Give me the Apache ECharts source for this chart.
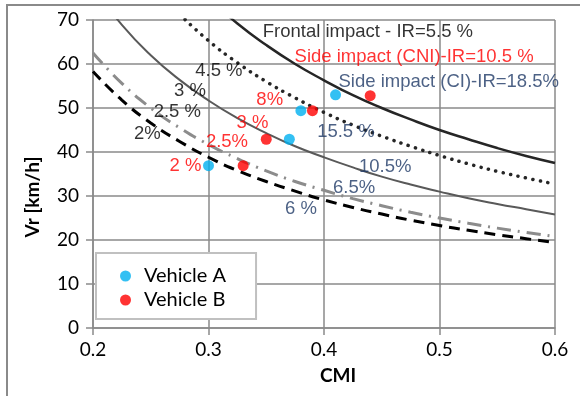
<!DOCTYPE html>
<html>
<head>
<meta charset="utf-8">
<script src="https://cdn.jsdelivr.net/npm/echarts@6/dist/echarts.min.js"></script>
<style>html,body{margin:0;padding:0;background:#fff;}#c{width:580px;height:396px;}</style>
</head>
<body>
<div id="c"></div>
<script>
// ---- data ----
var xTicks = [0.2, 0.3, 0.4, 0.5, 0.6];
var yTicks = [0, 10, 20, 30, 40, 50, 60, 70];

// IR curves (CMI vs Vr)
var frontalX = [0.300, 0.325, 0.350, 0.375, 0.400, 0.425, 0.450, 0.475, 0.500, 0.525, 0.550, 0.575, 0.600];
var frontalY = [75.0, 69.2, 64.3, 60.0, 56.3, 52.9, 50.0, 47.4, 45.0, 42.9, 40.9, 39.1, 37.5];
var dottedX  = [0.275, 0.300, 0.325, 0.350, 0.375, 0.400, 0.425, 0.450, 0.475, 0.500, 0.525, 0.550, 0.575, 0.600];
var dottedY  = [71.3, 65.3, 60.3, 56.0, 52.3, 49.0, 46.1, 43.6, 41.3, 39.2, 37.3, 35.6, 34.1, 32.7];
var greyX    = [0.200, 0.225, 0.250, 0.275, 0.300, 0.325, 0.350, 0.375, 0.400, 0.425, 0.450, 0.475, 0.500, 0.525, 0.550, 0.575, 0.600];
var greyY    = [77.5, 68.9, 62.0, 56.4, 51.7, 47.7, 44.3, 41.3, 38.8, 36.5, 34.4, 32.6, 31.0, 29.5, 28.2, 27.0, 25.8];
var dashDotX = [0.200, 0.225, 0.250, 0.275, 0.300, 0.325, 0.350, 0.375, 0.400, 0.425, 0.450, 0.475, 0.500, 0.525, 0.550, 0.575, 0.600];
var dashDotY = [62.5, 55.6, 50.0, 45.5, 41.7, 38.5, 35.7, 33.3, 31.3, 29.4, 27.8, 26.3, 25.0, 23.8, 22.7, 21.7, 20.8];
var dashedX  = [0.200, 0.225, 0.250, 0.275, 0.300, 0.325, 0.350, 0.375, 0.400, 0.425, 0.450, 0.475, 0.500, 0.525, 0.550, 0.575, 0.600];
var dashedY  = [58.3, 51.8, 46.6, 42.4, 38.8, 35.8, 33.3, 31.1, 29.1, 27.4, 25.9, 24.5, 23.3, 22.2, 21.2, 20.3, 19.4];

// vehicles
var vehicleAX = [0.30, 0.37, 0.38, 0.41];
var vehicleAY = [36.9, 42.9, 49.4, 53.0];
var vehicleBX = [0.33, 0.35, 0.39, 0.44];
var vehicleBY = [36.9, 42.9, 49.4, 52.8];

// annotation texts and their anchor (CMI, Vr)
var blackText = ['Frontal impact - IR=5.5 %', '4.5 %', '3 %', '2.5 %', '2%'];
var blackX = [0.438, 0.309, 0.284, 0.273, 0.247];
var blackY = [67.3, 58.4, 53.8, 49.0, 44.0];
var redText = ['Side impact (CNI)-IR=10.5 %', '8%', '3 %', '2.5%', '2 %'];
var redX = [0.478, 0.353, 0.338, 0.316, 0.280];
var redY = [61.6, 51.8, 46.7, 42.2, 36.9];
var blueText = ['Side impact (CI)-IR=18.5%', '15.5 %', '10.5%', '6.5%', '6 %'];
var blueX = [0.508, 0.419, 0.453, 0.426, 0.380];
var blueY = [55.9, 44.5, 36.7, 31.9, 27.1];

function pairs(xs, ys) { return xs.map(function (x, i) { return [x, ys[i]]; }); }
function labelPoints(xs, ys, texts) {
  return xs.map(function (x, i) { return { value: [x, ys[i]], name: texts[i] }; });
}

var chart = echarts.init(document.getElementById('c'), null, { renderer: 'canvas' });
var gridColor = '#8a8a8a';
var tickFont = 'Lato, "Open Sans", sans-serif';
var annFont = '"Liberation Sans", Arial, sans-serif';

function curve(name, xs, ys, color, width, dash, cap) {
  return {
    name: name, type: 'line', data: pairs(xs, ys), smooth: 0.5,
    showSymbol: false, symbol: 'none', silent: true, clip: true, z: 3,
    lineStyle: { color: color, width: width, type: dash, cap: cap || 'butt' }
  };
}
function annot(name, xs, ys, texts, color) {
  return {
    name: name, type: 'scatter', data: labelPoints(xs, ys, texts), symbolSize: 0, silent: true, z: 10,
    label: { show: true, position: 'inside', formatter: '{b}', color: color,
      fontFamily: annFont, fontSize: 18.5 }
  };
}

chart.setOption({
  animation: false,
  backgroundColor: '#ffffff',
  grid: { left: 93, right: 25, top: 20, bottom: 68, containLabel: false },
  xAxis: {
    type: 'value', min: xTicks[0], max: xTicks[xTicks.length - 1], interval: 0.1,
    axisLine: { show: true, lineStyle: { color: gridColor, width: 1.5 } },
    axisTick: { show: true, length: 7, lineStyle: { color: gridColor, width: 1.5 } },
    splitLine: { show: true, lineStyle: { color: gridColor, width: 1.5 } },
    axisLabel: { color: '#000', fontFamily: tickFont, fontSize: 19, margin: 12,
      formatter: function (v) { return v.toFixed(1); } }
  },
  yAxis: {
    type: 'value', min: yTicks[0], max: yTicks[yTicks.length - 1], interval: 10,
    axisLine: { show: true, lineStyle: { color: gridColor, width: 1.5 } },
    axisTick: { show: true, length: 7, lineStyle: { color: gridColor, width: 1.5 } },
    splitLine: { show: true, lineStyle: { color: gridColor, width: 1.5 } },
    axisLabel: { color: '#000', fontFamily: tickFont, fontSize: 19, margin: 14 }
  },
  legend: {
    data: ['Vehicle A', 'Vehicle B'], orient: 'vertical', left: 96, top: 253,
    width: 159, padding: [13, 30, 9, 24], itemGap: 4, itemWidth: 11, itemHeight: 11,
    borderColor: '#c0c0c0', borderWidth: 2, backgroundColor: '#fff',
    textStyle: { color: '#000', fontFamily: tickFont, fontSize: 20, padding: [0, 0, 0, 8] }
  },
  graphic: [
    { type: 'rect', silent: true, z: -10, shape: { x: 7, y: 5, width: 700, height: 500 },
      style: { fill: 'none', stroke: '#8a8a8a', lineWidth: 2 } },
    { type: 'text', silent: true, x: 33, y: 197, rotation: Math.PI / 2,
      style: { text: 'Vr [km/h]', fill: '#000', font: 'bold 19px Lato, sans-serif',
        textAlign: 'center', textVerticalAlign: 'middle' } },
    { type: 'text', silent: true, x: 338, y: 376,
      style: { text: 'CMI', fill: '#000', font: 'bold 19px Lato, sans-serif',
        textAlign: 'center', textVerticalAlign: 'middle' } }
  ],
  series: [
    curve('Frontal', frontalX, frontalY, '#262626', 2.5, 'solid'),
    curve('Dotted', dottedX, dottedY, '#262626', 3.5, [0.1, 7.5], 'round'),
    curve('Grey', greyX, greyY, '#595959', 2, 'solid'),
    curve('DashDot', dashDotX, dashDotY, '#8c8c8c', 3, [14, 7, 2, 7]),
    curve('Dashed', dashedX, dashedY, '#000000', 3, [11, 7]),
    { name: 'Vehicle A', type: 'scatter', data: pairs(vehicleAX, vehicleAY), symbol: 'circle',
      symbolSize: 11, itemStyle: { color: '#00B0F0' }, z: 5 },
    { name: 'Vehicle B', type: 'scatter', data: pairs(vehicleBX, vehicleBY), symbol: 'circle',
      symbolSize: 11, itemStyle: { color: '#FF0000' }, z: 5 },
    annot('blackLabels', blackX, blackY, blackText, '#000000'),
    annot('redLabels', redX, redY, redText, '#FF0000'),
    annot('blueLabels', blueX, blueY, blueText, '#1F3A66')
  ]
});
</script>
</body>
</html>
